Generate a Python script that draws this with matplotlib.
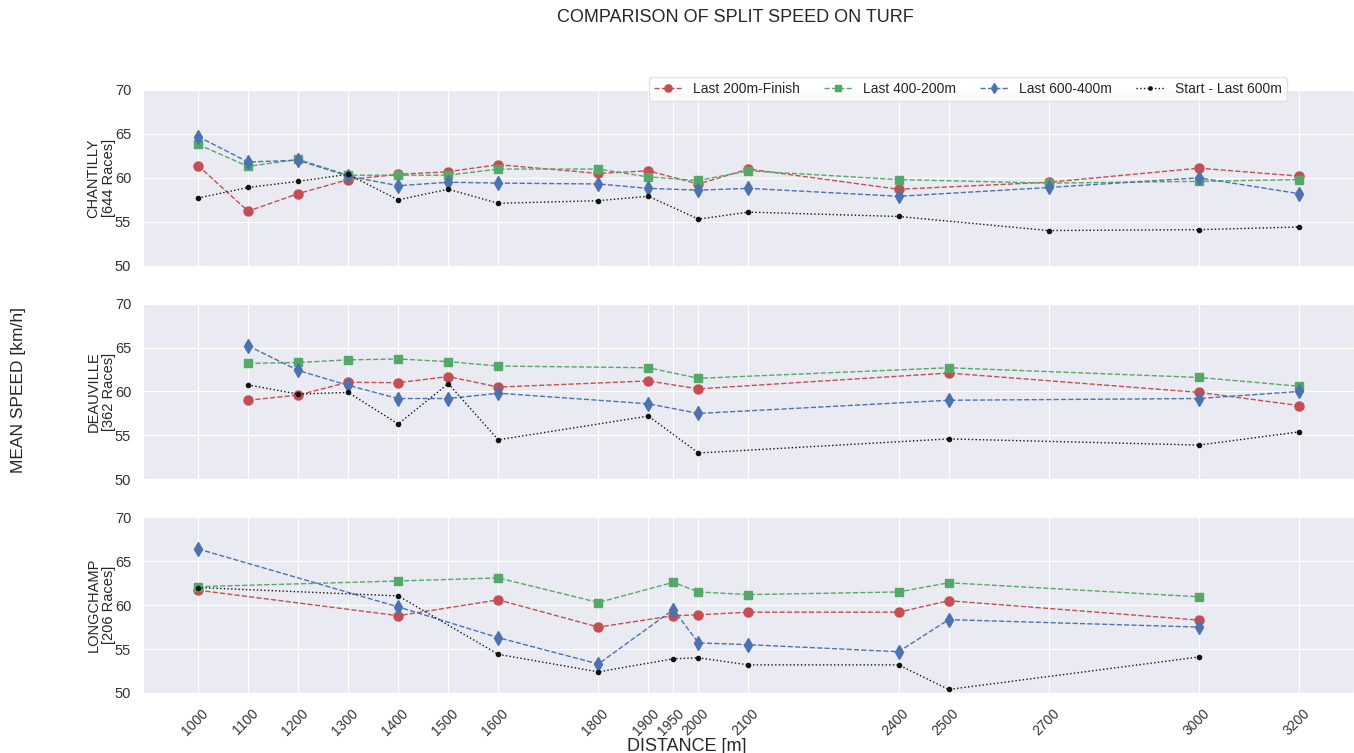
import matplotlib
matplotlib.use("Agg")
import matplotlib.pyplot as plt
import matplotlib.transforms as mtransforms
import seaborn as sns

# distances raced per hippodrome
chantilly_dist = [1000, 1100, 1200, 1300, 1400, 1500, 1600, 1800, 1900, 2000, 2100, 2400, 2700, 3000, 3200]
deauville_dist = [1100, 1200, 1300, 1400, 1500, 1600, 1900, 2000, 2500, 3000, 3200]
longchamp_dist = [1000, 1400, 1600, 1800, 1950, 2000, 2100, 2400, 2500, 3000]

# mean split speeds (km/h)
chantilly_200 = [61.4, 56.2, 58.2, 59.8, 60.4, 60.7, 61.5, 60.5, 60.8, 59.3, 61.0, 58.7, 59.5, 61.1, 60.2]
chantilly_400 = [63.8, 61.3, 62.1, 60.3, 60.3, 60.3, 61.0, 61.0, 60.1, 59.7, 60.8, 59.8, 59.4, 59.6, 59.8]
chantilly_600 = [64.7, 61.8, 62.0, 60.2, 59.1, 59.5, 59.4, 59.3, 58.8, 58.6, 58.8, 57.9, 58.9, 60.0, 58.2]
chantilly_start = [57.7, 58.9, 59.6, 60.4, 57.5, 58.7, 57.1, 57.4, 57.9, 55.3, 56.1, 55.6, 54.0, 54.1, 54.4]

deauville_200 = [59.0, 59.6, 61.05, 61.0, 61.7, 60.5, 61.2, 60.3, 62.1, 59.9, 58.4]
deauville_400 = [63.2, 63.3, 63.6, 63.7, 63.4, 62.9, 62.7, 61.5, 62.7, 61.6, 60.6]
deauville_600 = [65.2, 62.4, 60.7, 59.2, 59.2, 59.8, 58.6, 57.5, 59.0, 59.2, 60.0]
deauville_start = [60.75, 59.7, 59.9, 56.3, 60.9, 54.5, 57.2, 53.0, 54.6, 53.9, 55.4]

longchamp_200 = [61.7, 58.8, 60.6, 57.5, 58.8, 58.9, 59.2, 59.2, 60.5, 58.3]
longchamp_400 = [62.1, 62.75, 63.1, 60.3, 62.6, 61.5, 61.2, 61.5, 62.55, 60.95]
longchamp_600 = [66.4, 59.8, 56.3, 53.3, 59.5, 55.7, 55.5, 54.7, 58.35, 57.5]
longchamp_start = [62.0, 61.05, 54.4, 52.4, 53.9, 54.0, 53.2, 53.2, 50.4, 54.1]

panel_labels = ["CHANTILLY\n[644 Races]", "DEAUVILLE\n[362 Races]", "LONGCHAMP\n[206 Races]"]
series_labels = ["Last 200m-Finish", "Last 400-200m", "Last 600-400m", "Start - Last 600m"]
xticks = [1000, 1100, 1200, 1300, 1400, 1500, 1600, 1800, 1900, 1950, 2000, 2100, 2400, 2500, 2700, 3000, 3200]
yticks = [50, 55, 60, 65, 70]

panels = [
    (chantilly_dist, [chantilly_200, chantilly_400, chantilly_600, chantilly_start]),
    (deauville_dist, [deauville_200, deauville_400, deauville_600, deauville_start]),
    (longchamp_dist, [longchamp_200, longchamp_400, longchamp_600, longchamp_start]),
]

sns.set_style("darkgrid")
plt.rcParams['font.family'] = ['Liberation Sans', 'DejaVu Sans']

styles = [
    dict(marker='o', ls='--', color='#C44E52', ms=6.5),
    dict(marker='s', ls='--', color='#55A868', ms=6),
    dict(marker='d', ls='--', color='#4C72B0', ms=7),
    dict(marker='.', ls=':', color='#111111', ms=6),
]

fig, axes = plt.subplots(3, 1, figsize=(13.54, 7.53), dpi=100, sharex=True)
fig.subplots_adjust(left=0.1056, right=1.0, top=0.8805, bottom=0.0797, hspace=0.216)

handles = []
for ax, (dist, series), plabel in zip(axes, panels, panel_labels):
    for vals, st, lab in zip(series, styles, series_labels):
        h, = ax.plot(dist, vals, linewidth=1, label=lab, **st)
        if ax is axes[0]:
            handles.append(h)
    ax.set_ylim(50, 70)
    ax.set_yticks(yticks)
    ax.set_xlim(890, 3310)
    ax.set_xticks(xticks)
    ax.set_ylabel(plabel, fontsize=10.5, color='#262626', labelpad=-1, linespacing=1.15)
    ax.tick_params(axis='y', labelsize=10.5, colors='#333333', pad=5)

axes[-1].set_xticklabels([str(t) for t in xticks], rotation=45, fontsize=10, color='#333333')
axes[-1].tick_params(axis='x', pad=6)
shift = mtransforms.ScaledTranslation(-2 / 72, 0, fig.dpi_scale_trans)
for lbl in axes[-1].get_xticklabels():
    lbl.set_transform(lbl.get_transform() + shift)

fig.legend(handles, series_labels, loc='upper right', bbox_to_anchor=(0.9505, 0.898),
           ncol=4, fontsize=10, frameon=True, facecolor='white', edgecolor='#dddddd',
           borderaxespad=0, columnspacing=1.75, handlelength=2.0, handletextpad=0.8,
           borderpad=0.35, markerscale=0.8)

fig.text(0.543, 0.977, "COMPARISON OF SPLIT SPEED ON TURF", ha='center', va='center',
         fontsize=13, color='#262626')
fig.text(0.507, 0.009, "DISTANCE [m]", ha='center', va='center', fontsize=13, color='#262626')
fig.text(0.014, 0.482, "MEAN SPEED [km/h]", ha='center', va='center', rotation=90,
         fontsize=12.5, color='#262626')

plt.savefig("out.png", dpi=100)
plt.close()
